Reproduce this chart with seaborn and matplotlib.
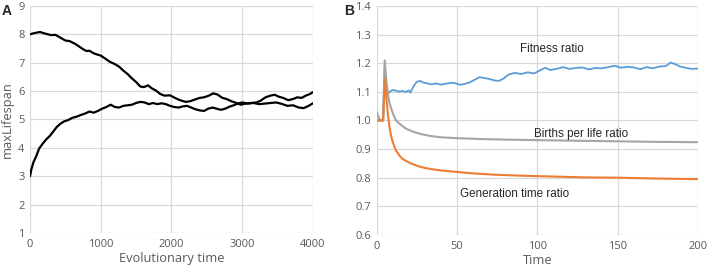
import matplotlib
matplotlib.use('Agg')
import matplotlib.pyplot as plt
import seaborn as sns
import pandas as pd

# ================= data =================
# panel A: two runs of maxLifespan vs evolutionary time
evo_time_hi = [0, 60, 140, 220, 300, 360, 430, 500, 560, 640, 700, 760, 800, 840, 900, 960, 1000,
               1060, 1130, 1200, 1260, 1320, 1380, 1440, 1500, 1560, 1610, 1670, 1720, 1780,
               1840, 1900, 1980, 2050, 2120, 2200, 2260, 2330, 2400, 2460, 2530, 2590, 2650,
               2720, 2780, 2850, 2920, 2980, 3050, 3120, 3200, 3260, 3330, 3400, 3460, 3520,
               3580, 3650, 3720, 3780, 3840, 3900, 3960, 4000]
lifespan_hi = [8.0, 8.04, 8.08, 8.02, 7.97, 7.98, 7.88, 7.78, 7.76, 7.66, 7.56, 7.46, 7.41, 7.42,
               7.33, 7.28, 7.25, 7.15, 7.03, 6.95, 6.86, 6.72, 6.6, 6.45, 6.32, 6.16, 6.14, 6.2,
               6.1, 6.02, 5.9, 5.84, 5.85, 5.76, 5.68, 5.62, 5.64, 5.7, 5.76, 5.78, 5.84, 5.92,
               5.88, 5.76, 5.72, 5.64, 5.58, 5.52, 5.56, 5.58, 5.6, 5.66, 5.78, 5.84, 5.87,
               5.8, 5.76, 5.68, 5.72, 5.78, 5.76, 5.84, 5.9, 5.96]

evo_time_lo = [0, 20, 50, 90, 130, 180, 230, 280, 330, 380, 430, 480, 540, 600, 660, 720, 780,
               840, 900, 960, 1020, 1080, 1140, 1200, 1260, 1320, 1380, 1440, 1500, 1560, 1620,
               1680, 1740, 1800, 1860, 1920, 1980, 2040, 2100, 2160, 2220, 2280, 2340, 2400,
               2460, 2520, 2580, 2640, 2700, 2760, 2820, 2880, 2940, 3000, 3080, 3160, 3240,
               3320, 3400, 3480, 3560, 3640, 3720, 3800, 3870, 3940, 4000]
lifespan_lo = [3.0, 3.25, 3.5, 3.72, 3.98, 4.15, 4.3, 4.42, 4.58, 4.74, 4.85, 4.93, 4.98, 5.06,
               5.1, 5.16, 5.21, 5.28, 5.24, 5.3, 5.38, 5.44, 5.52, 5.44, 5.42, 5.48, 5.5, 5.52,
               5.58, 5.62, 5.6, 5.54, 5.58, 5.54, 5.57, 5.54, 5.48, 5.44, 5.42, 5.46, 5.48,
               5.42, 5.36, 5.32, 5.3, 5.38, 5.42, 5.38, 5.34, 5.38, 5.45, 5.5, 5.56, 5.6,
               5.56, 5.58, 5.54, 5.56, 5.58, 5.6, 5.55, 5.48, 5.5, 5.42, 5.4, 5.48, 5.57]

# panel B: ratios vs time
fit_time = [0, 4, 5, 6, 8, 10, 12, 14, 16, 18, 20, 21, 23, 25, 27, 29, 31, 34, 37, 40, 43, 46,
            49, 52, 55, 58, 61, 64, 67, 70, 73, 76, 79, 82, 86, 90, 94, 98, 102, 105, 108, 112,
            116, 120, 124, 128, 132, 136, 140, 144, 148, 152, 156, 160, 164, 168, 172, 176,
            180, 183, 186, 189, 192, 196, 200]
fit_ratio = [1.0, 1.0, 1.19, 1.085, 1.1, 1.106, 1.104, 1.1, 1.103, 1.099, 1.105, 1.097, 1.12,
             1.135, 1.138, 1.132, 1.13, 1.126, 1.129, 1.125, 1.128, 1.131, 1.13, 1.124, 1.128,
             1.133, 1.142, 1.151, 1.148, 1.145, 1.14, 1.138, 1.146, 1.16, 1.166, 1.162, 1.168,
             1.164, 1.176, 1.184, 1.176, 1.18, 1.186, 1.18, 1.183, 1.185, 1.178, 1.183, 1.182,
             1.186, 1.191, 1.184, 1.187, 1.185, 1.179, 1.186, 1.182, 1.188, 1.19, 1.202,
             1.196, 1.188, 1.184, 1.18, 1.181]

births_time = [0, 2, 4, 5, 6, 7, 8, 10, 12, 15, 18, 22, 27, 33, 40, 50, 65, 80, 100, 125, 150,
               175, 200]
births_ratio = [1.03, 1.0, 1.0, 1.21, 1.14, 1.09, 1.06, 1.025, 1.0, 0.985, 0.972, 0.962, 0.953,
                0.946, 0.941, 0.938, 0.935, 0.933, 0.931, 0.929, 0.927, 0.925, 0.924]

gen_time = [0, 4, 5, 6, 7, 8, 9, 10, 11, 12, 14, 16, 19, 22, 26, 30, 35, 42, 50, 60, 75, 90,
            110, 130, 150, 175, 200]
gen_ratio = [1.0, 1.0, 1.145, 1.08, 1.02, 0.975, 0.945, 0.925, 0.908, 0.895, 0.878, 0.866,
             0.856, 0.848, 0.84, 0.834, 0.829, 0.824, 0.82, 0.815, 0.81, 0.807, 0.804, 0.801,
             0.8, 0.797, 0.795]

# ================= style =================
sns.set_style("white")
plt.rcParams['font.family'] = ['Open Sans', 'DejaVu Sans']
TICK_COLOR = '#595959'
GRID_COLOR = '#d9d9d9'
ANNOT_FONT = ['Liberation Sans', 'DejaVu Sans']

fig = plt.figure(figsize=(7.09, 2.67), dpi=100)
ax_a = fig.add_axes([0.0423, 0.127, 0.399, 0.851])
ax_b = fig.add_axes([0.5313, 0.120, 0.4532, 0.858])


def style_axis(ax):
    for s in ax.spines.values():
        s.set_visible(False)
    ax.grid(True, color=GRID_COLOR, linewidth=0.9)
    ax.set_axisbelow(True)
    ax.tick_params(axis='both', length=0, labelsize=8, colors=TICK_COLOR, pad=4)


# --- panel A ---
df_hi = pd.DataFrame({'t': evo_time_hi, 'v': lifespan_hi})
df_lo = pd.DataFrame({'t': evo_time_lo, 'v': lifespan_lo})
sns.lineplot(data=df_hi, x='t', y='v', ax=ax_a, color='black', linewidth=1.6)
sns.lineplot(data=df_lo, x='t', y='v', ax=ax_a, color='black', linewidth=1.6)
ax_a.set_xlim(0, 4000)
ax_a.set_ylim(1, 9)
ax_a.set_xticks([0, 1000, 2000, 3000, 4000])
ax_a.set_yticks(range(1, 10))
style_axis(ax_a)
ax_a.set_xlabel('Evolutionary time', fontsize=9.3, color=TICK_COLOR, labelpad=2)
ax_a.set_ylabel('maxLifespan', fontsize=9.3, color=TICK_COLOR, labelpad=3)

# --- panel B ---
df_fit = pd.DataFrame({'t': fit_time, 'v': fit_ratio})
df_births = pd.DataFrame({'t': births_time, 'v': births_ratio})
df_gen = pd.DataFrame({'t': gen_time, 'v': gen_ratio})
sns.lineplot(data=df_fit, x='t', y='v', ax=ax_b, color='#5b9bd5', linewidth=1.3)
sns.lineplot(data=df_births, x='t', y='v', ax=ax_b, color='#a5a5a5', linewidth=1.5)
sns.lineplot(data=df_gen, x='t', y='v', ax=ax_b, color='#ed7d31', linewidth=1.5)
ax_b.set_xlim(0, 200)
ax_b.set_ylim(0.6, 1.4)
ax_b.set_xticks([0, 50, 100, 150, 200])
ax_b.set_yticks([0.6, 0.7, 0.8, 0.9, 1.0, 1.1, 1.2, 1.3, 1.4])
ax_b.set_yticklabels(['0.6', '0.7', '0.8', '0.9', '1.0', '1.1', '1.2', '1.3', '1.4'])
style_axis(ax_b)
ax_b.set_xlabel('Time', fontsize=9.3, color=TICK_COLOR, labelpad=2)
ax_b.set_ylabel('')

ax_b.text(109, 1.25, 'Fitness ratio', fontsize=8.4, ha='center', va='center',
          color='#262626', family=ANNOT_FONT)
ax_b.text(127, 0.953, 'Births per life ratio', fontsize=8.4, ha='center', va='center',
          color='#262626', family=ANNOT_FONT)
ax_b.text(86, 0.744, 'Generation time ratio', fontsize=8.4, ha='center', va='center',
          color='#262626', family=ANNOT_FONT)

# panel letters
fig.text(0.002, 0.985, 'A', fontsize=10, fontweight='bold', va='top', ha='left', family=ANNOT_FONT)
fig.text(0.485, 0.985, 'B', fontsize=10, fontweight='bold', va='top', ha='left', family=ANNOT_FONT)

fig.savefig('out.png', dpi=100)
